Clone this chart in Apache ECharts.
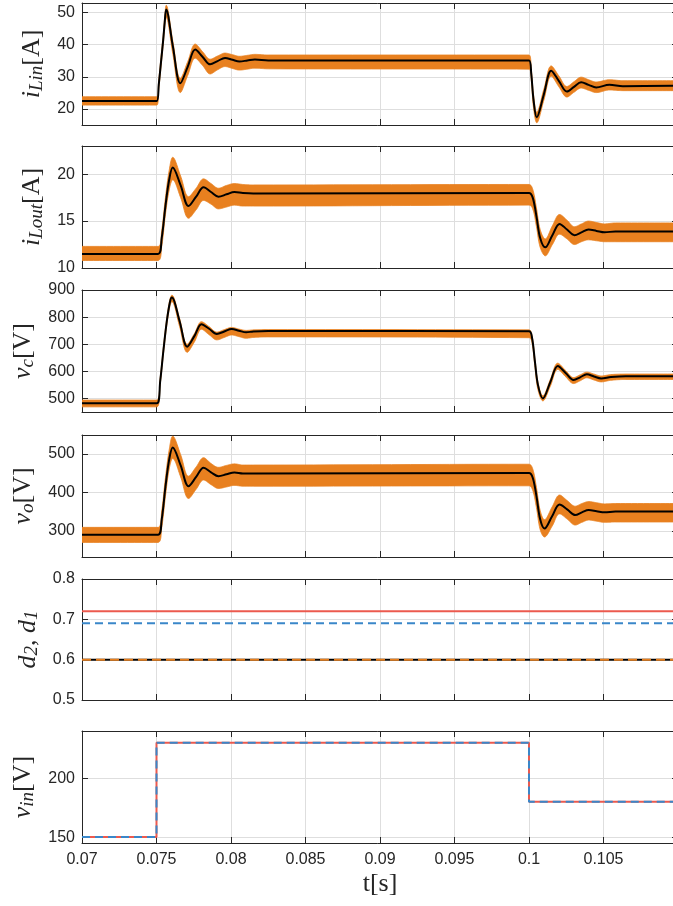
<!DOCTYPE html>
<html><head><meta charset="utf-8">
<script src="https://cdn.jsdelivr.net/npm/echarts@6/dist/echarts.min.js"></script>
<style>html,body{margin:0;padding:0;background:#fff}#c{width:673px;height:906px}</style>
</head><body><div id="c"></div>
<script>
// ---------- time ticks ----------
const tTicks = [0.07, 0.075, 0.08, 0.085, 0.09, 0.095, 0.1, 0.105, 0.11];
const tTickLabels = [0.07, 0.075, 0.08, 0.085, 0.09, 0.095, 0.1, 0.105];

// ---------- panel 1: i_Lin ----------
const iLinT = [0.07, 0.07502, 0.07515, 0.0753, 0.07545, 0.07555, 0.07565, 0.0761, 0.0766, 0.0771, 0.0776, 0.0781, 0.0786, 0.0791, 0.0796, 0.0801, 0.08057, 0.0811, 0.0816, 0.0825, 0.1, 0.10015, 0.1003, 0.10052, 0.101, 0.10149, 0.10202, 0.10254, 0.10302, 0.1035, 0.104, 0.10451, 0.1054, 0.1063, 0.11];
const iLinMean = [22.5, 22.5, 27.5, 34.5, 41.5, 47, 51, 39.5, 28, 33.2, 38.5, 36.2, 33.9, 34.9, 35.9, 35.3, 34.8, 35.1, 35.4, 35.1, 35.1, 31, 23, 17.4, 24.6, 31.9, 28.6, 25.4, 26.9, 28.3, 27.5, 26.7, 27.5, 27.1, 27.2];
const iLinUp = [23.8, 23.8, 29, 36, 43, 48.5, 52.3, 41, 29.5, 34.8, 40.2, 37.8, 35.5, 36.5, 37.4, 36.9, 36.4, 36.7, 37, 36.8, 36.8, 32.6, 24.6, 19, 26.2, 33.4, 30.2, 27, 28.5, 29.9, 29.1, 28.4, 29.1, 28.8, 28.8];
const iLinLow = [21.2, 21.2, 26, 33, 40, 45, 48.5, 37, 25.1, 30.5, 35.8, 33.5, 30.9, 32.2, 33.2, 32.6, 32.1, 32.4, 32.7, 32.5, 32.4, 29, 20.5, 15.7, 22.8, 30.2, 26.8, 23.7, 25.2, 26.5, 25.8, 25.1, 25.9, 25.7, 25.7];
const iLinTicks = [20, 30, 40, 50];

// ---------- panel 2: i_Lout ----------
const iLoutT = [0.07, 0.0751, 0.07535, 0.0756, 0.07585, 0.07609, 0.07662, 0.07715, 0.07766, 0.07816, 0.07866, 0.07916, 0.0797, 0.08023, 0.0808, 0.0815, 0.1, 0.10025, 0.1005, 0.10075, 0.10109, 0.10157, 0.10205, 0.10255, 0.10305, 0.10352, 0.10399, 0.10453, 0.10507, 0.1058, 0.11];
const iLoutMean = [11.5, 11.5, 13.2, 16.6, 19.4, 20.7, 18.8, 16.6, 17.6, 18.6, 18.1, 17.6, 17.85, 18.1, 18.0, 17.95, 18.0, 17.5, 15.5, 13.2, 12.2, 13.5, 14.7, 14.1, 13.5, 13.8, 14.1, 13.95, 13.8, 13.9, 13.9];
const iLoutUp = [12.3, 12.3, 14.0, 17.5, 20.4, 21.8, 19.8, 17.6, 18.5, 19.5, 19.0, 18.5, 18.8, 19.0, 18.9, 18.85, 18.9, 18.4, 16.4, 14.1, 13.1, 14.5, 15.7, 15.1, 14.4, 14.7, 15.0, 14.85, 14.7, 14.8, 14.8];
const iLoutLow = [10.8, 10.8, 12.3, 15.7, 18.3, 19.4, 17.5, 15.3, 16.2, 17.2, 16.8, 16.3, 16.5, 16.7, 16.6, 16.6, 16.7, 16.3, 14.4, 12.2, 11.3, 12.5, 13.6, 13.1, 12.5, 12.8, 13.0, 12.9, 12.8, 12.8, 12.8];
const iLoutTicks = [10, 15, 20];

// ---------- panel 3: v_c ----------
const vcT = [0.07, 0.07502, 0.07525, 0.07546, 0.07569, 0.0759, 0.07603, 0.07655, 0.07706, 0.07754, 0.07802, 0.07853, 0.07905, 0.07955, 0.08005, 0.08053, 0.08102, 0.0815, 0.0825, 0.1, 0.1002, 0.1004, 0.1006, 0.10093, 0.10143, 0.10193, 0.10246, 0.10299, 0.10343, 0.10388, 0.10436, 0.10484, 0.1055, 0.1065, 0.11];
const vcMean = [482, 482, 565, 675, 784, 855, 872, 785, 691, 730, 774, 757, 738, 747, 756, 750, 744, 747, 749, 748, 725, 635, 550, 500, 560, 620, 594, 568, 578, 589, 581, 574, 579, 582, 582];
const vcUp = [494, 494, 577, 687, 796, 866, 881, 795, 700, 739, 783, 765, 745, 754, 762, 756, 751, 753, 754, 753, 732, 645, 560, 510, 570, 630, 603, 577, 587, 597, 590, 583, 588, 590, 590];
const vcLow = [469, 469, 553, 662, 770, 840, 857, 765, 670, 708, 755, 735, 716, 725, 734, 728, 722, 725, 727, 724, 705, 615, 532, 491, 545, 607, 580, 555, 565, 576, 568, 561, 567, 570, 570];
const vcTicks = [500, 600, 700, 800, 900];

// ---------- panel 4: v_o ----------
const voT = [0.07, 0.0751, 0.07535, 0.0756, 0.07585, 0.07609, 0.07662, 0.07715, 0.07766, 0.07816, 0.07866, 0.07916, 0.0797, 0.08023, 0.0808, 0.0815, 0.1, 0.10025, 0.1005, 0.10075, 0.10104, 0.10155, 0.10205, 0.10258, 0.1031, 0.10355, 0.10401, 0.10454, 0.10507, 0.1058, 0.11];
const voMean = [290, 290, 330, 414, 485, 516.5, 470, 416, 440, 463.6, 452, 442, 447, 451.5, 449, 449, 450, 438, 390, 330, 306, 338, 368.6, 355, 341, 348, 354, 351, 348, 350, 350];
const voUp = [309, 309, 352, 438, 510, 546, 498, 442, 466, 490, 475, 465, 470, 474, 471, 471, 473, 461, 413, 353, 329, 362, 393, 378, 364, 371, 376, 373, 370, 371, 371];
const voLow = [270, 270, 308, 390, 460, 488, 440, 384, 408, 432, 420, 410, 414, 418, 416, 416, 417, 405, 360, 303, 284, 312, 344, 330, 315, 322, 328, 325, 322, 323, 323];
const voTicks = [300, 400, 500];

// ---------- panel 5: duty cycles ----------
const dT = [0.07, 0.11];
const dRed = [0.72, 0.72];
const dBlue = [0.69, 0.69];
const dBlack = [0.6, 0.6];
const dOrange = [0.6, 0.6];
const dTicks = [0.5, 0.6, 0.7, 0.8];

// ---------- panel 6: v_in ----------
const vinT = [0.07, 0.075, 0.1, 0.11];
const vinV = [150, 230, 180, 180];
const vinTicks = [150, 200];

// ---------- styling ----------
const FRAME = '#262626', GRID = '#dedede', TXT = '#262626';
const ORANGE = '#e8801f', RED = '#ec5a4e', BLUE = '#3a87c9';
const SANS = 'Liberation Sans', SERIF = 'Liberation Serif';
const SMOOTH = 0.35;

const layout = [
  {top: 3, height: 122, min: 15, max: 53, ticks: iLinTicks, name: '{m|i}{s|Lin}{u|[A]}'},
  {top: 146, height: 122, min: 10, max: 23, ticks: iLoutTicks, name: '{m|i}{s|Lout}{u|[A]}'},
  {top: 290, height: 122, min: 450, max: 900, ticks: vcTicks, name: '{m|v}{s|c}{u|[V]}'},
  {top: 435, height: 122, min: 232, max: 549, ticks: voTicks, name: '{m|v}{s|o}{u|[V]}'},
  {top: 579, height: 121, min: 0.5, max: 0.8, ticks: dTicks, name: '{m|d}{s|2}{u|, }{m|d}{s|1}'},
  {top: 731, height: 112, min: 145, max: 240, ticks: vinTicks, name: '{m|v}{s|in}{u|[V]}'}
];

const rich = {
  m: {fontFamily: SERIF, fontStyle: 'italic', fontSize: 26, color: TXT},
  s: {fontFamily: SERIF, fontStyle: 'italic', fontSize: 19, color: TXT, padding: [9, 0, 0, 0]},
  u: {fontFamily: SERIF, fontSize: 26, color: TXT}
};

const zip = (t, v) => t.map((x, i) => [x, v[i]]);

const grid = [], xAxis = [], yAxis = [], series = [];
const tickStyle = {color: FRAME, width: 1};
layout.forEach((L, i) => {
  grid.push({left: 82, right: -5, top: L.top, height: L.height, outerBoundsMode: 'none', containLabel: false});
  xAxis.push({
    gridIndex: i, type: 'value', min: 0.07, max: 0.11, position: 'bottom',
    axisLine: {show: true, onZero: false, lineStyle: {color: FRAME, width: 1}},
    axisTick: {show: true, inside: true, length: 6, customValues: tTicks, lineStyle: tickStyle},
    axisLabel: {show: i === 5, customValues: tTickLabels, fontSize: 16, fontFamily: SANS, color: TXT, margin: 9,
      formatter: v => String(+(+v).toFixed(3))},
    splitLine: {show: true, lineStyle: {color: GRID, width: 1}},
    name: i === 5 ? 't[s]' : '', nameLocation: 'middle', nameGap: 28,
    nameTextStyle: {fontFamily: SERIF, fontSize: 26, color: TXT}
  });
  xAxis.push({
    gridIndex: i, type: 'value', min: 0.07, max: 0.11, position: 'top',
    axisLine: {show: true, onZero: false, lineStyle: {color: FRAME, width: 1}},
    axisTick: {show: true, inside: true, length: 6, customValues: tTicks, lineStyle: tickStyle},
    axisLabel: {show: false}, splitLine: {show: false}
  });
  yAxis.push({
    gridIndex: i, type: 'value', min: L.min, max: L.max, position: 'left',
    axisLine: {show: true, onZero: false, lineStyle: {color: FRAME, width: 1}},
    axisTick: {show: true, inside: true, length: 6, customValues: L.ticks, lineStyle: tickStyle},
    axisLabel: {show: true, customValues: L.ticks, fontSize: 16, fontFamily: SANS, color: TXT, margin: 7},
    splitLine: {show: true, lineStyle: {color: GRID, width: 1}},
    name: L.name, nameLocation: 'middle', nameGap: 26, nameRotate: 90,
    nameTextStyle: {rich: rich}
  });
  yAxis.push({
    gridIndex: i, type: 'value', min: L.min, max: L.max, position: 'right',
    axisLine: {show: true, onZero: false, lineStyle: {color: FRAME, width: 1}},
    axisTick: {show: true, inside: true, length: 6, customValues: L.ticks, lineStyle: tickStyle},
    axisLabel: {show: false}, splitLine: {show: false}
  });
});

// Same bezier construction that ECharts uses for smoothed lines (control points
// clamped to neighbouring points), sampled so the envelope matches the mean curve.
function smoothPath(pts, smooth) {
  const out = [pts[0]];
  let cp0 = pts[0].slice();
  let prev = pts[0];
  const N = 14;
  for (let i = 1; i < pts.length; i++) {
    const x = pts[i][0], y = pts[i][1];
    const px = prev[0], py = prev[1];
    if ((x - px) * (x - px) + (y - py) * (y - py) < 0.5) continue;
    let cp1, nextCp0;
    if (i === pts.length - 1) { cp1 = [x, y]; nextCp0 = [x, y]; }
    else {
      const nx = pts[i + 1][0], ny = pts[i + 1][1];
      let vx = nx - px, vy = ny - py;
      const lenPrev = Math.hypot(x - px, y - py), lenNext = Math.hypot(nx - x, ny - y) || 1e-6;
      const r = lenNext / (lenNext + lenPrev);
      let ncx = x + vx * smooth * r, ncy = y + vy * smooth * r;
      ncx = Math.min(ncx, Math.max(nx, x)); ncy = Math.min(ncy, Math.max(ny, y));
      ncx = Math.max(ncx, Math.min(nx, x)); ncy = Math.max(ncy, Math.min(ny, y));
      vx = ncx - x; vy = ncy - y;
      let c1x = x - vx * lenPrev / lenNext, c1y = y - vy * lenPrev / lenNext;
      c1x = Math.min(c1x, Math.max(px, x)); c1y = Math.min(c1y, Math.max(py, y));
      c1x = Math.max(c1x, Math.min(px, x)); c1y = Math.max(c1y, Math.min(py, y));
      vx = x - c1x; vy = y - c1y;
      ncx = x + vx * lenNext / lenPrev; ncy = y + vy * lenNext / lenPrev;
      cp1 = [c1x, c1y]; nextCp0 = [ncx, ncy];
    }
    for (let s = 1; s <= N; s++) {
      const u = s / N, a = (1 - u) * (1 - u) * (1 - u), b = 3 * u * (1 - u) * (1 - u), c = 3 * u * u * (1 - u), d = u * u * u;
      out.push([a * px + b * cp0[0] + c * cp1[0] + d * x, a * py + b * cp0[1] + c * cp1[1] + d * y]);
    }
    cp0 = nextCp0;
    prev = [x, y];
  }
  return out;
}

// switching-ripple envelope (upper/lower) drawn as one filled shape through the axis scales
function band(i, t, mean, up, low) {
  series.push({
    type: 'custom', xAxisIndex: 2 * i, yAxisIndex: 2 * i, data: [[t[0], up[0]]], silent: true, z: 2,
    renderItem: (params, api) => {
      const upPx = t.map((x, k) => api.coord([x, up[k]]));
      const lowPx = t.map((x, k) => api.coord([x, low[k]]));
      const pts = smoothPath(upPx, SMOOTH).concat(smoothPath(lowPx, SMOOTH).reverse());
      const cs = params.coordSys;
      return {
        type: 'polygon', shape: {points: pts},
        style: {fill: ORANGE, stroke: ORANGE, lineWidth: 0.8},
        clipPath: {type: 'rect', shape: {x: cs.x, y: cs.y, width: cs.width, height: cs.height}}
      };
    }
  });
  series.push({type: 'line', xAxisIndex: 2 * i, yAxisIndex: 2 * i, data: zip(t, mean),
    symbol: 'none', smooth: SMOOTH, lineStyle: {color: '#000', width: 2}, silent: true, z: 3});
}
band(0, iLinT, iLinMean, iLinUp, iLinLow);
band(1, iLoutT, iLoutMean, iLoutUp, iLoutLow);
band(2, vcT, vcMean, vcUp, vcLow);
band(3, voT, voMean, voUp, voLow);

const flat = (t, v, color, type, z) => ({type: 'line', xAxisIndex: 8, yAxisIndex: 8, data: zip(t, v),
  symbol: 'none', lineStyle: {color: color, width: 2, type: type}, silent: true, z: z});
series.push(flat(dT, dRed, RED, 'solid', 3));
series.push(flat(dT, dBlue, BLUE, [8, 5], 3));
series.push(flat(dT, dBlack, '#000', 'solid', 3));
series.push(flat(dT, dOrange, ORANGE, [9, 5], 4));

series.push({type: 'line', xAxisIndex: 10, yAxisIndex: 10, data: zip(vinT, vinV), step: 'end',
  symbol: 'none', lineStyle: {color: RED, width: 2}, silent: true, z: 3});
series.push({type: 'line', xAxisIndex: 10, yAxisIndex: 10, data: zip(vinT, vinV), step: 'end',
  symbol: 'none', lineStyle: {color: BLUE, width: 2, type: [8, 5]}, silent: true, z: 4});

const chart = echarts.init(document.getElementById('c'), null, {renderer: 'canvas'});
chart.setOption({animation: false, backgroundColor: '#fff', grid, xAxis, yAxis, series});
</script></body></html>
